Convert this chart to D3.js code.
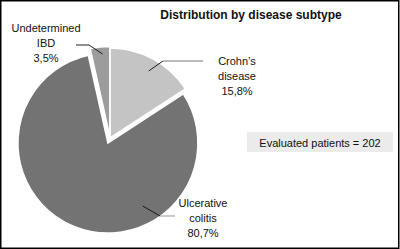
<!DOCTYPE html>
<html>
<head>
<meta charset="utf-8">
<script src="https://cdn.jsdelivr.net/npm/d3@7"></script>
<style>
  body { margin: 0; background: #fff; }
  text { font-family: "Liberation Sans", Arial, sans-serif; fill: #111; }
</style>
</head>
<body>
<div id="chart"></div>
<script>
/* Pie chart: distribution by disease subtype */

const categories = ["Crohn's disease", "Ulcerative colitis", "Undetermined IBD"];
const values = [15.8, 80.7, 3.5];
const labelLines = [["Crohn\u2019s", "disease", "15,8%"], ["Ulcerative", "colitis", "80,7%"], ["Undetermined", "IBD", "3,5%"]];
const colors = ["#c4c4c4", "#737373", "#9c9c9c"];
const title = "Distribution by disease subtype";
const note = "Evaluated patients = 202";

const width = 400, height = 249,
    radius = 90,
    cx = 110, cy = 138;

// how far each slice is pulled out of the pie
const explode = [0, 5.5, 1.5];

// label layout: centre of text block, first baseline, leader line
const labelPos = [
    { x: 237, y: 65, leadAngle: 30, leadR: 0.86, elbow: [163, 61], end: [203, 61], tail: "#777" },
    { x: 203, y: 207, leadAngle: 151, leadR: 0.8, elbow: [160, 216], end: [175, 216], tail: "#999" },
    { x: 46, y: 32, leadAngle: 355, leadR: 0.92, elbow: [89, 45], end: [76, 45], tail: "#222" }
];

const svg = d3.select("#chart")
    .append("svg")
    .attr("width", width)
    .attr("height", height);

svg.append("rect") // outer frame
    .attr("x", 0.75).attr("y", 0.75)
    .attr("width", width - 2).attr("height", height - 1.5)
    .attr("fill", "#fff")
    .attr("stroke", "#000")
    .attr("stroke-width", 1.5);

const pie = d3.pie().sort(null).value(d => d)(values);
const arc = d3.arc().innerRadius(0).outerRadius(radius);

const slices = svg.append("g")
    .attr("transform", `translate(${cx},${cy})`);

slices.selectAll("path")
    .data(pie)
    .join("path")
    .attr("transform", (d, i) => {
        const a = (d.startAngle + d.endAngle) / 2;
        return `translate(${explode[i] * Math.sin(a)},${-explode[i] * Math.cos(a)})`;
    })
    .attr("d", arc)
    .attr("fill", (d, i) => colors[i])
    .attr("stroke", "#fff")
    .attr("stroke-width", 1.5);

// leader lines: dark diagonal, lighter horizontal tail
labelPos.forEach((p, i) => {
    const a = p.leadAngle * Math.PI / 180;
    const off = explode[i];
    const mid = (pie[i].startAngle + pie[i].endAngle) / 2;
    const sx = cx + off * Math.sin(mid) + radius * p.leadR * Math.sin(a);
    const sy = cy - off * Math.cos(mid) - radius * p.leadR * Math.cos(a);
    svg.append("line")
        .attr("x1", sx).attr("y1", sy)
        .attr("x2", p.elbow[0]).attr("y2", p.elbow[1])
        .attr("stroke", "#1a1a1a");
    svg.append("line")
        .attr("x1", p.elbow[0]).attr("y1", p.elbow[1])
        .attr("x2", p.end[0]).attr("y2", p.end[1])
        .attr("stroke", p.tail);
});

// slice labels
labelPos.forEach((p, i) => {
    const t = svg.append("text")
        .attr("text-anchor", "middle")
        .attr("font-size", 11);
    labelLines[i].forEach((s, j) => {
        t.append("tspan")
            .attr("x", p.x)
            .attr("y", p.y + j * 15)
            .text(s);
    });
});

svg.append("text") // title
    .attr("x", 251)
    .attr("y", 19)
    .attr("text-anchor", "middle")
    .attr("font-size", 12)
    .attr("font-weight", "bold")
    .text(title);

svg.append("rect") // note box
    .attr("x", 247).attr("y", 132)
    .attr("width", 146).attr("height", 20)
    .attr("fill", "#ebebeb");

svg.append("text")
    .attr("x", 320)
    .attr("y", 146.5)
    .attr("text-anchor", "middle")
    .attr("font-size", 11)
    .text(note);
</script>
</body>
</html>
